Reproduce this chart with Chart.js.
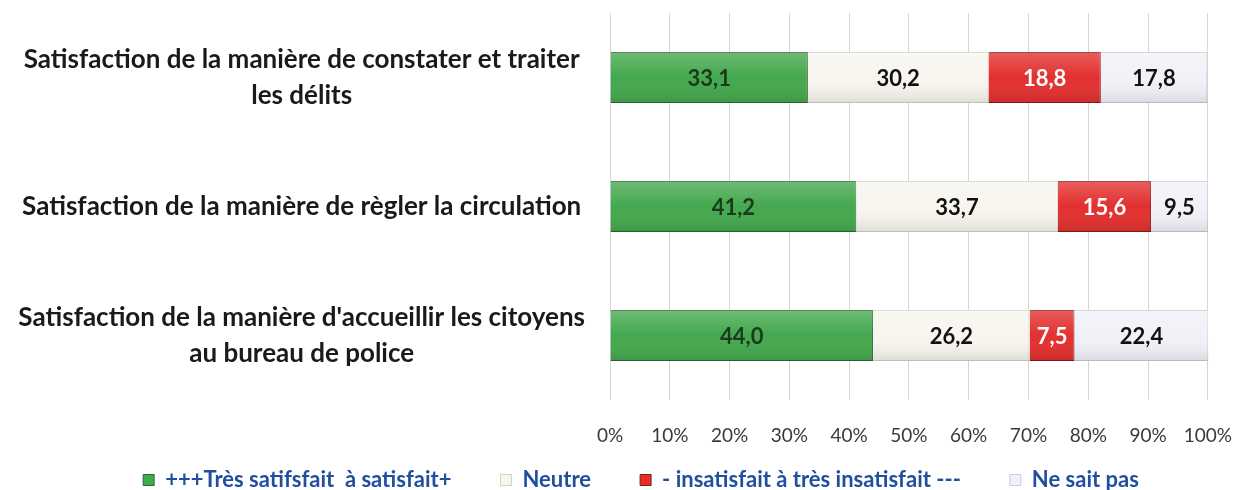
<!DOCTYPE html>
<html>
<head>
<meta charset="utf-8">
<script src="https://cdn.jsdelivr.net/npm/chart.js@4"></script>
<style>
  html, body { margin: 0; padding: 0; background: #fff; }
  #wrap { width: 1256px; height: 490px; }
</style>
</head>
<body>
<div id="wrap"><canvas id="satisfactionChart" width="1256" height="490"></canvas></div>
<script>
// Catégories (axe vertical)
const categories = [
    ["Satisfaction de la manière de constater et traiter", "les délits"],
    "Satisfaction de la manière de règler la circulation",
    ["Satisfaction de la manière d'accueillir les citoyens", "au bureau de police"]
];

// Séries (%)
const tresSatisfait = [33.1, 41.2, 44.0];
const neutre        = [30.2, 33.7, 26.2];
const insatisfait   = [18.8, 15.6, 7.5];
const neSaitPas     = [17.8, 9.5, 22.4];

const seriesNames = [
    "+++Très satifsfait  à satisfait+",
    "Neutre",
    "- insatisfait à très insatisfait ---",
    "Ne sait pas"
];

const xTicks = [0, 10, 20, 30, 40, 50, 60, 70, 80, 90, 100];

const LEGEND_PAD = 49;

// légende : grand écart horizontal, peu de hauteur réservée, un peu décalée à droite
const legendePlugin = {
    id: 'legendeBasse',
    afterInit(chart) {
        const lg = chart.legend;
        const fit = lg.fit;
        lg.fit = function() {
            fit.call(this);
            this.height = 43;
        };
    },
    afterLayout(chart) {
        const lg = chart.legend;
        lg.top = lg.bottom - 10 - LEGEND_PAD - 11;
        lg.left += 62;
    }
};

// léger relief sur les barres + valeurs au centre
const labelColors = ['#1c3a1c', '#111', '#fff', '#111'];
const valeursPlugin = {
    id: 'valeurs',
    afterDatasetsDraw(chart) {
        const ctx = chart.ctx;
        ctx.save();
        chart.data.datasets.forEach((ds, i) => {
            chart.getDatasetMeta(i).data.forEach(bar => {
                const top = bar.y - bar.height / 2, bot = bar.y + bar.height / 2;
                const g = ctx.createLinearGradient(0, top, 0, bot);
                g.addColorStop(0, 'rgba(255,255,255,0.22)');
                g.addColorStop(0.5, 'rgba(255,255,255,0)');
                g.addColorStop(1, 'rgba(0,0,0,0.10)');
                ctx.fillStyle = g;
                ctx.fillRect(bar.base, top, bar.x - bar.base, bar.height);
            });
        });
        ctx.font = 'bold 22px Lato';
        ctx.textAlign = 'center';
        ctx.textBaseline = 'middle';
        chart.data.datasets.forEach((ds, i) => {
            chart.getDatasetMeta(i).data.forEach((bar, j) => {
                const p = bar.getCenterPoint();
                ctx.fillStyle = labelColors[i];
                ctx.fillText(ds.data[j].toFixed(1).replace('.', ','), p.x, p.y + 1);
            });
        });
        ctx.restore();
    }
};

const ctx = document.getElementById('satisfactionChart').getContext('2d');
new Chart(ctx, {
    type: 'bar',
    data: {
        labels: categories,
        datasets: [
            { label: seriesNames[0], data: tresSatisfait, backgroundColor: '#44a84e', borderColor: '#2b6a2f', borderWidth: 1 },
            { label: seriesNames[1], data: neutre,        backgroundColor: '#f7f5ee', borderColor: '#d5d3cc', borderWidth: 1 },
            { label: seriesNames[2], data: insatisfait,   backgroundColor: '#e2302f', borderColor: '#8c1a1a', borderWidth: 1 },
            { label: seriesNames[3], data: neSaitPas,     backgroundColor: '#f1f2f8', borderColor: '#c9ccdb', borderWidth: 1 }
        ]
    },
    options: {
        indexAxis: 'y',
        responsive: false,
        animation: false,
        layout: { padding: { top: 13, right: 36, left: 0, bottom: 0 } },
        datasets: { bar: { categoryPercentage: 1, barPercentage: 0.395 } },
        scales: {
            x: {
                stacked: true,
                min: 0,
                max: 100,
                afterBuildTicks: axis => { axis.ticks = xTicks.map(v => ({ value: v })); },
                afterFit: axis => { axis.height = 47; },
                grid: { color: '#d6d6d6', drawTicks: false },
                border: { display: false },
                ticks: {
                    padding: 24,
                    color: '#3a3a3a',
                    font: { family: 'Lato', size: 19 },
                    callback: v => v + '%'
                }
            },
            y: {
                stacked: true,
                afterFit: axis => {
                    axis.width = 610;
                    axis.paddingTop = 0;
                    axis.paddingBottom = 0;
                },
                grid: { display: false },
                border: { display: false },
                ticks: {
                    crossAlign: 'center',
                    padding: 17,
                    color: '#1a1a1a',
                    font: { family: 'Lato', size: 26, weight: 'bold', lineHeight: 1.385 }
                }
            }
        },
        plugins: {
            legend: {
                position: 'bottom',
                labels: {
                    boxWidth: 11,
                    boxHeight: 11,
                    padding: LEGEND_PAD,
                    color: '#1f4f9e',
                    font: { family: 'Lato', size: 22, weight: 'bold' }
                }
            },
            tooltip: { enabled: false }
        }
    },
    plugins: [legendePlugin, valeursPlugin]
});
</script>
</body>
</html>
